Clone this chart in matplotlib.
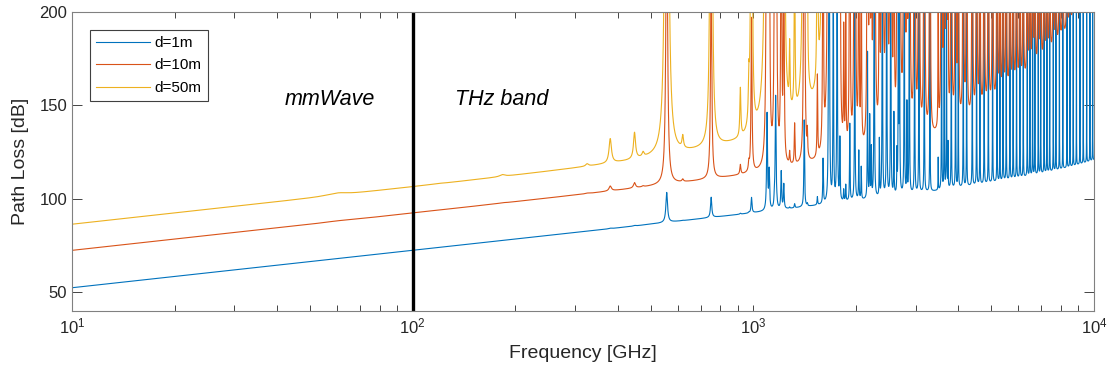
import numpy as np
import matplotlib.pyplot as plt

plt.rcParams['font.family'] = ['Liberation Sans', 'DejaVu Sans']
plt.rcParams['mathtext.default'] = 'regular'

distances_m = [1, 10, 50]
series_labels = ['d=1m', 'd=10m', 'd=50m']
series_colors = ['#0072BD', '#D95319', '#EDB120']

# absorption lines: centre [GHz] and peak absorption coefficient [1/m]
line_center_ghz = [
    56.3, 58.4, 59.6, 60.3, 61.2, 62.5, 118.75, 183.31, 325.15, 380.20, 448.00, 474.69,
    556.94, 620.70, 752.03, 916.17, 970.32, 987.93,
    1097.37, 1113.34, 1153.13, 1158.32, 1162.91, 1172.53, 1207.64, 1228.79, 1278.27,
    1322.07, 1410.62, 1440.78, 1541.97, 1602.22, 1661.01, 1669.90, 1716.77, 1762.04,
    1794.79, 1797.16, 1842.0, 1867.75, 1919.36, 1985.0,
    2040, 2074, 2164, 2196, 2221, 2264, 2344, 2391.6, 2462.9, 2531.5, 2586, 2640.5,
    2664.6, 2685.6, 2774, 2824, 2870, 2975, 3063, 3176, 3299, 3489, 3570, 3633, 3690,
    3729, 3812, 3924, 3996, 4133, 4229, 4393, 4523, 4625, 4760, 4897, 5040, 5193, 5294,
    5408, 5527, 5665, 5790, 5925, 6061, 6200, 6370, 6485, 6605, 6707, 6862, 6976, 7138,
    7274, 7413, 7595, 7730, 7915, 8100, 8330, 8499, 8690, 8880, 9093, 9300, 9517, 9728,
    9910,
]
line_peak_k = [
    0.0008, 0.001, 0.0012, 0.0012, 0.001, 0.0008, 0.0008, 0.0046, 0.0058, 0.06, 0.065, 0.011,
    3.7, 0.03, 2.5, 0.12, 0.10, 1.9,
    11.9, 4.7, 1.0, 0.5, 13.7, 0.3, 4.6, 3.0, 0.15,
    0.5, 10.7, 0.3, 1.0, 5.5, 8.0, 60, 30, 40,
    6.1, 2.0, 1.4, 2.0, 9.5, 30,
    6, 4, 18, 10, 6, 50, 7, 50, 50, 50, 10, 5,
    30, 50, 50, 11, 50, 40, 40, 40, 30, 4, 40, 30, 40,
    5.5, 40, 40, 30, 40, 40, 40, 40, 30, 40, 40, 40, 40, 25,
    40, 40, 40, 40, 40, 40, 40, 40, 40, 40, 40, 40, 40, 40,
    40, 40, 40, 40, 40, 40, 40, 40, 40, 40, 40, 40, 40, 40,
    40,
]
line_halfwidth_ghz = 3.7
# smooth background absorption k = k10 * (f / 10 THz) ** exp
continuum_k_10thz = 1.9
continuum_exp = 2.0

f_ghz = np.unique(np.concatenate([np.geomspace(10, 1e4, 80000), line_center_ghz]))
f0 = np.array(line_center_ghz)[:, None]
s = np.array(line_peak_k)[:, None]
g2 = line_halfwidth_ghz ** 2
f = f_ghz[None, :]
# Van Vleck-Weisskopf shape, normalised to the peak value
shape = g2 * (f / f0) * (1 / ((f - f0) ** 2 + g2) + 1 / ((f + f0) ** 2 + g2))
k_total = (s * shape).sum(axis=0) + continuum_k_10thz * (f_ghz / 1e4) ** continuum_exp

fig = plt.figure(figsize=(11.12, 3.76), dpi=100)
ax = fig.add_axes([0.0647, 0.1729, 0.9191, 0.7952])

for d, lab, col in zip(distances_m, series_labels, series_colors):
    fspl = 20 * np.log10(4 * np.pi * d * f_ghz * 1e9 / 3e8)
    pl = fspl + 10 * np.log10(np.e) * k_total * d
    ax.plot(f_ghz, pl, color=col, lw=0.8, label=lab)

ax.axvline(100, color='k', lw=2.4)
ax.text(57, 150.2, 'mmWave', style='italic', fontsize=15.5, ha='center', va='baseline')
ax.text(182, 150.2, 'THz band', style='italic', fontsize=15.5, ha='center', va='baseline')

ax.set_xscale('log')
ax.set_xlim(10, 1e4)
ax.set_ylim(40, 200)
ax.set_yticks([50, 100, 150, 200])
ax.set_xlabel('Frequency [GHz]', fontsize=14, color='#262626', labelpad=6)
ax.set_ylabel('Path Loss [dB]', fontsize=14, color='#262626', labelpad=7)
ax.tick_params(axis='both', which='both', direction='in', top=True, right=True,
               labelsize=12, colors='#262626')
ax.tick_params(axis='x', which='both', length=4.5, width=0.6, pad=4)
ax.tick_params(axis='y', length=7, width=0.6)
for sp in ax.spines.values():
    sp.set_color('#808080')
    sp.set_linewidth(0.8)

leg = ax.legend(loc='upper left', bbox_to_anchor=(0.0176, 0.94), borderaxespad=0,
                fontsize=11, handlelength=3.5, handletextpad=0.35, labelspacing=0.55,
                borderpad=0.4, fancybox=False, framealpha=1)
leg.get_frame().set_edgecolor('#404040')
leg.get_frame().set_linewidth(0.8)

fig.savefig('out.png', dpi=100)
